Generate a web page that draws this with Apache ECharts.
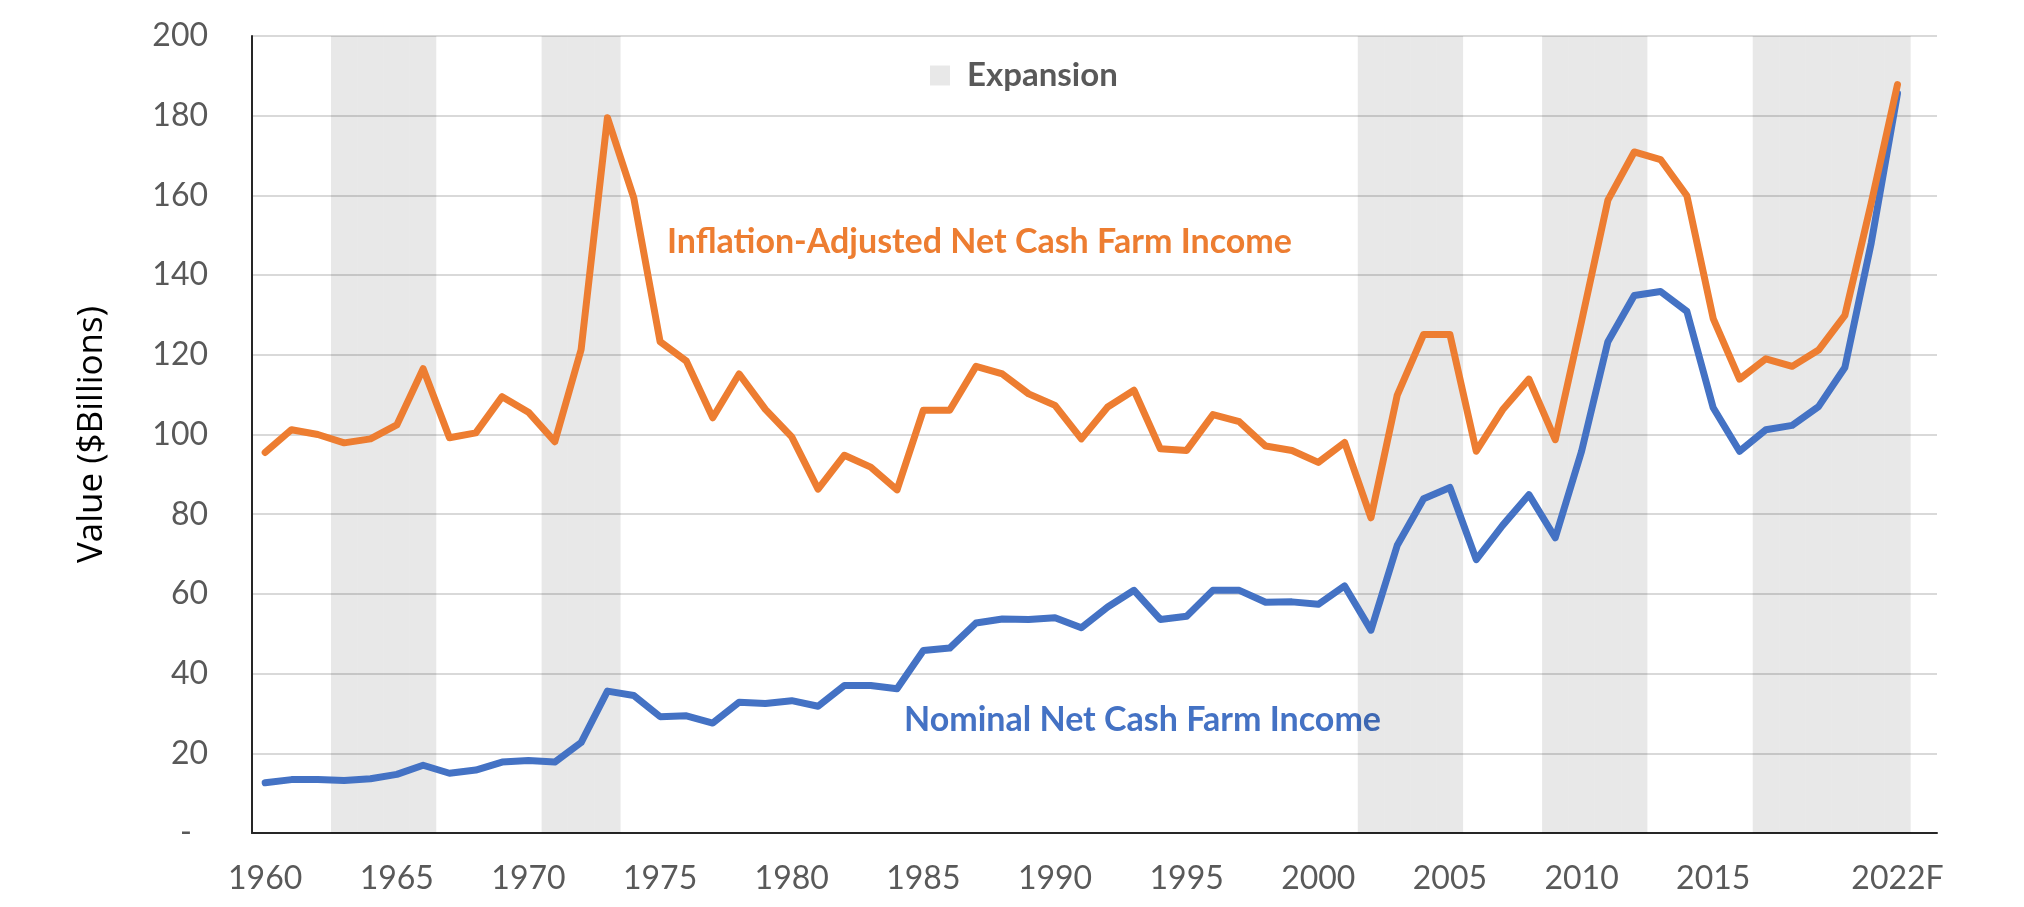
<!DOCTYPE html>
<html>
<head>
<meta charset="utf-8">
<script src="https://cdn.jsdelivr.net/npm/echarts@6/dist/echarts.min.js"></script>
<style>
  html, body { margin: 0; padding: 0; background: #ffffff; }
  #chart { width: 2024px; height: 907px; }
</style>
</head>
<body>
<div id="chart"></div>
<script>
// Net cash farm income, nominal vs inflation-adjusted, with expansion periods shaded.

const ORANGE = '#ed7d31';
const BLUE   = '#4472c4';
const GREY   = '#595959';

// Category axis: one slot per year plus an empty slot after the forecast.
const years = [
    '1960', '1961', '1962', '1963', '1964', '1965', '1966', '1967', '1968', '1969',
    '1970', '1971', '1972', '1973', '1974', '1975', '1976', '1977', '1978', '1979',
    '1980', '1981', '1982', '1983', '1984', '1985', '1986', '1987', '1988', '1989',
    '1990', '1991', '1992', '1993', '1994', '1995', '1996', '1997', '1998', '1999',
    '2000', '2001', '2002', '2003', '2004', '2005', '2006', '2007', '2008', '2009',
    '2010', '2011', '2012', '2013', '2014', '2015', '2016', '2017', '2018', '2019',
    '2020', '2021', '2022F', ''
];

// Year labels printed under the axis.
const shownLabels = ['1960', '1965', '1970', '1975', '1980', '1985', '1990',
                     '1995', '2000', '2005', '2010', '2015', '2022F'];

// $ billions
const inflationAdjusted = [
    95.5, 101.2, 100.0, 97.9, 98.9, 102.4, 116.5, 99.2, 100.4, 109.5,
    105.6, 98.2, 121.3, 179.5, 159.4, 123.3, 118.4, 104.2, 115.2, 106.3,
    99.4, 86.3, 94.8, 91.8, 86.1, 106.1, 106.1, 117.1, 115.2, 110.2,
    107.3, 98.9, 106.9, 111.1, 96.4, 96.0, 105.0, 103.2, 97.1, 96.0,
    93.0, 98.0, 79.1, 109.9, 125.1, 125.1, 95.8, 106.2, 113.9, 98.7,
    128.4, 158.8, 170.9, 169.0, 159.9, 129.1, 113.9, 119.0, 117.1, 121.2,
    129.9, 158.0, 187.8
];

const nominal = [
    12.6, 13.4, 13.4, 13.2, 13.6, 14.7, 17.0, 15.0, 15.8, 17.8,
    18.2, 17.8, 22.7, 35.6, 34.5, 29.2, 29.4, 27.6, 32.8, 32.5,
    33.2, 31.8, 37.0, 37.0, 36.2, 45.8, 46.4, 52.7, 53.7, 53.6,
    54.0, 51.5, 56.7, 60.9, 53.6, 54.4, 60.9, 60.9, 57.9, 58.0,
    57.4, 62.0, 50.9, 72.2, 83.9, 86.7, 68.6, 77.2, 84.9, 74.1,
    95.8, 123.3, 134.9, 135.9, 130.9, 106.7, 95.8, 101.2, 102.3, 107.0,
    116.8, 148.0, 185.6
];

// Expansion periods (first year, last year), inclusive.
const expansions = [
    ['1963', '1966'],
    ['1971', '1973'],
    ['2002', '2005'],
    ['2009', '2012'],
    ['2017', '2022F']
];

// Shade as full-height bars so each band spans whole year slots.
const bandData = years.map((y, i) => {
    const inside = expansions.some(([a, b]) =>
        i >= years.indexOf(a) && i <= years.indexOf(b));
    return inside ? 200 : '-';
});

const chart = echarts.init(document.getElementById('chart'));

chart.setOption({
    animation: false,
    backgroundColor: '#ffffff',
    textStyle: { fontFamily: 'Lato' },
    grid: { left: 252, right: 87, top: 36, bottom: 74 },
    legend: {
        data: ['Expansion'],
        left: 925,
        top: 54,
        icon: 'rect',
        itemWidth: 20,
        itemHeight: 20,
        selectedMode: false,
        textStyle: {
            fontFamily: 'Lato', fontWeight: 'bold', fontSize: 33,
            color: GREY, padding: [0, 0, 0, 12]
        }
    },
    xAxis: {
        type: 'category',
        data: years,
        boundaryGap: true,
        axisLine: { lineStyle: { color: '#262626', width: 2 } },
        axisTick: { show: false },
        splitLine: { show: false },
        axisLabel: {
            interval: (idx, val) => shownLabels.includes(val),
            fontFamily: 'Lato',
            fontSize: 32,
            color: GREY,
            margin: 30,
            hideOverlap: false
        }
    },
    yAxis: {
        type: 'value',
        min: 0,
        max: 200,
        interval: 20,
        name: 'Value ($Billions)',
        nameLocation: 'middle',
        nameRotate: 90,
        nameGap: 142,
        nameTextStyle: { fontFamily: 'Open Sans', fontSize: 35, color: '#000000' },
        axisLine: { show: true, lineStyle: { color: '#262626', width: 2 } },
        axisTick: { show: false },
        splitLine: { lineStyle: { color: '#d9d9d9', width: 2 } },
        axisLabel: {
            fontFamily: 'Lato',
            fontSize: 32,
            color: GREY,
            margin: 44,
            formatter: v => (v === 0 ? '{dash|-}' : String(v)),
            rich: {
                dash: { fontFamily: 'Lato', fontSize: 32, color: GREY, padding: [0, 16, 0, 0] }
            }
        }
    },
    series: [{
        name: 'Expansion',
        type: 'bar',
        data: bandData,
        barCategoryGap: '0%',
        barGap: '0%',
        silent: true,
        itemStyle: { color: 'rgba(0,0,0,0.09)' }
    }, {
        name: 'Nominal Net Cash Farm Income',
        type: 'line',
        data: nominal,
        symbol: 'none',
        lineStyle: { color: BLUE, width: 7, join: 'round', cap: 'round' },
        itemStyle: { color: BLUE }
    }, {
        name: 'Inflation-Adjusted Net Cash Farm Income',
        type: 'line',
        data: inflationAdjusted,
        symbol: 'none',
        lineStyle: { color: ORANGE, width: 7, join: 'round', cap: 'round' },
        itemStyle: { color: ORANGE }
    }],
    graphic: [{
        type: 'text',
        x: 667,
        y: 242,
        style: {
            text: 'Inflation-Adjusted Net Cash Farm Income',
            font: 'bold 34px Lato',
            fill: ORANGE,
            verticalAlign: 'middle'
        }
    }, {
        type: 'text',
        x: 904,
        y: 720,
        style: {
            text: 'Nominal Net Cash Farm Income',
            font: 'bold 34px Lato',
            fill: BLUE,
            verticalAlign: 'middle'
        }
    }]
});
</script>
</body>
</html>
